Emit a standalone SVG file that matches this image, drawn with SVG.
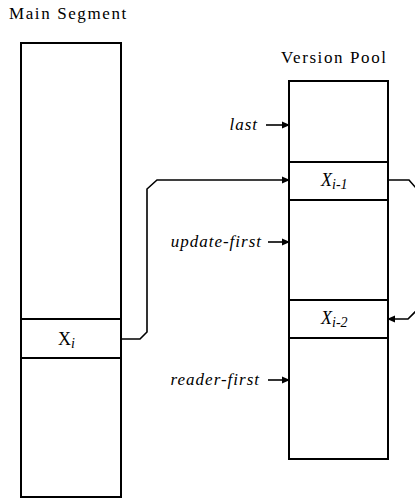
<svg xmlns="http://www.w3.org/2000/svg" width="415" height="498" viewBox="0 0 415 498">
<style>
.box{fill:#fff;stroke:#000;stroke-width:2}
.line{fill:none;stroke:#000;stroke-width:1.8}
.conn{fill:none;stroke:#000;stroke-width:1.6}
.title{font-family:"Liberation Serif",serif;font-size:17px;letter-spacing:1.6px;fill:#000}
.lbl{font-family:"Liberation Serif",serif;font-size:17px;font-style:italic;letter-spacing:1px;fill:#000}
.x{font-family:"Liberation Serif",serif;font-size:18px;fill:#000}
.sub{font-size:14px;font-style:italic}
</style>
<defs>
<marker id="ah" markerWidth="8" markerHeight="8" refX="7" refY="4" orient="auto" markerUnits="userSpaceOnUse">
<path d="M0,0.5 L8,4 L0,7.5 Z" fill="#000"/>
</marker>
</defs>
<g id="main-segment">
<text class="title" x="9" y="19">Main Segment</text>
<rect class="box" x="21" y="43" width="100" height="454"/>
</g>
<g id="xi">
<path class="line" d="M21,319 H121 M21,358 H121"/>
<text class="x" x="58" y="345">X<tspan class="sub" dy="3">i</tspan></text>
</g>
<g id="version-pool">
<text class="title" x="281" y="63">Version Pool</text>
<rect class="box" x="289" y="81" width="99" height="378"/>
</g>
<g id="xi-1">
<path class="line" d="M289,162 H388 M289,200 H388"/>
<text class="x" x="321" y="186" font-style="italic">X<tspan class="sub" dy="3">i-1</tspan></text>
</g>
<g id="xi-2">
<path class="line" d="M289,300 H388 M289,338 H388"/>
<text class="x" x="321" y="324" font-style="italic">X<tspan class="sub" dy="3">i-2</tspan></text>
</g>
<g id="labels">
<text class="lbl" x="258" y="130" text-anchor="end">last</text>
<text class="lbl" x="262" y="247" text-anchor="end">update-first</text>
<text class="lbl" x="260" y="385" text-anchor="end">reader-first</text>
</g>
<g id="connectors">
<path class="conn" d="M266,125 H289" marker-end="url(#ah)"/>
<path class="conn" d="M268,242 H289" marker-end="url(#ah)"/>
<path class="conn" d="M268,380 H289" marker-end="url(#ah)"/>
<path class="conn" d="M121,339 H140 L147,332 V189 L157,180 H289" marker-end="url(#ah)"/>
<path class="conn" d="M388,180 H409 L416,188 V311 L408,319 H388" marker-end="url(#ah)"/>
</g>
</svg>
